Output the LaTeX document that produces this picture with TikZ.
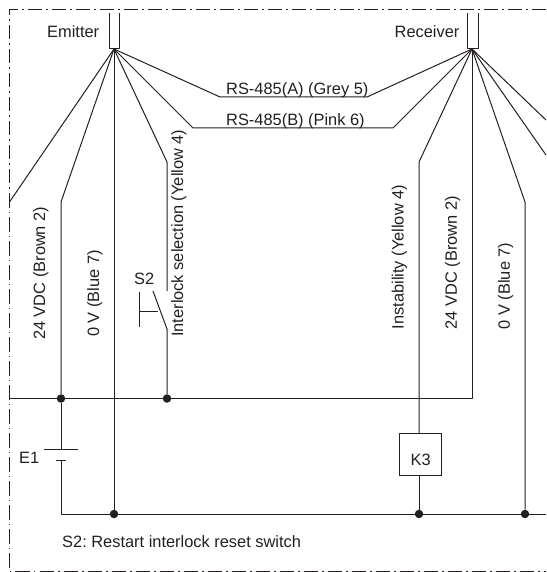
\documentclass[tikz,border=0pt]{standalone}
\usepackage{fontspec}
\setmainfont{Liberation Sans}
\definecolor{ink}{HTML}{231F20}
\frenchspacing
\tikzset{
  wire/.style={draw=ink,line width=1pt,line join=round},
  frameline/.style={draw=ink,line width=1pt,dash pattern=on 14.5pt off 4pt on 1.5pt off 4pt},
  lbl/.style={text=ink,font=\fontsize{16.4}{16.4}\selectfont,inner sep=0pt},
  vlbl/.style={lbl,rotate=90,anchor=west},
  hlbl/.style={lbl,anchor=base west},
  jdot/.style={circle,fill=ink,draw=none,minimum size=8.5pt,inner sep=0pt}
}
\begin{document}
\begin{tikzpicture}[x=1pt,y=-1pt]
\useasboundingbox (0,0) rectangle (546,572);
\draw[frameline] (546,9.5) -- (9.5,9.5) -- (9.5,571) -- (546,571);
% sensor heads
\coordinate (ea) at (114,49);
\coordinate (ra) at (472,49);
\draw[wire] (109,13) -- (109,48.5) -- (119,48.5) -- (119,13);
\draw[wire] (467,13) -- (467,48.5) -- (478,48.5) -- (478,13);
% junctions
\node[jdot] (j1) at (61,398.5) {};
\node[jdot] (j2) at (167,398.5) {};
\node[jdot] (j3) at (114,514) {};
\node[jdot] (j4) at (419,514) {};
\node[jdot] (j5) at (525,514) {};
\node[draw=ink,line width=1pt,minimum size=42pt,inner sep=0pt] (k3) at (420,454.3) {};
\coordinate (leftA) at (9.5,202);
\coordinate (leftB) at (9.5,398.5);
\coordinate (rightA) at (546,120);
\coordinate (rightB) at (546,155);
\coordinate (rightC) at (546,514);
\coordinate (bat) at (61,514);
\coordinate (batp) at (61,449);
\coordinate (batn) at (61,460);
\coordinate (swt) at (167,291);
\coordinate (swb) at (167,329);
\coordinate (bld) at (153,291);
% emitter fan
\draw[wire] (ea) -- (leftA);
\draw[wire] (ea) -- (61,202) -- (j1);
\draw[wire] (ea) -- (j3);
\draw[wire] (ea) -- (167,162) -- (swt);
\draw[wire] (ea) -- (220,97) -- (367,97) -- (ra);
\draw[wire] (ea) -- (193,128) -- (393,128) -- (ra);
% receiver fan
\draw[wire] (ra) -- (419,162) -- (k3.north -| j4);
\draw[wire] (ra) -- (472,398.5) -- (leftB);
\draw[wire] (ra) -- (525,202) -- (j5);
\draw[wire] (ra) -- (rightA);
\draw[wire] (ra) -- (rightB);
% bottom rail
\draw[wire] (k3.south -| j4) -- (j4);
\draw[wire] (batn) -- (bat) -- (rightC);
\draw[wire] (j1) -- (batp);
\draw[wire] (44,449) -- (78,449);
\draw[wire] (56,460) -- (66,460);
% switch
\draw[wire] (j2) -- (swb) -- (bld);
\draw[wire] (139.5,292) -- (139.5,327);
\draw[wire] (139.5,311.5) -- (158,311.5);
% labels
\node[hlbl] (k3lbl) at (410.5,465) {K3};
\node[hlbl] (emitter) at (47,37.5) {Emitter};
\node[hlbl] (receiver) at (394.5,37.5) {Receiver};
\node[hlbl] (rsa) at (226,94.5) {RS-485(A) (Grey 5)};
\node[hlbl] (rsb) at (226,126) {RS-485(B) (Pink 6)};
\node[vlbl] (l24a) at (41,340) {24 VDC (Brown 2)};
\node[vlbl] (l0a) at (95,337) {0 V (Blue 7)};
\node[vlbl] (lint) at (179,337) {Interlock selection (Yellow 4)};
\node[vlbl] (linst) at (399.5,329.5) {Instability (Yellow 4)};
\node[vlbl] (l24b) at (452.5,329.5) {24 VDC (Brown 2)};
\node[vlbl] (l0b) at (505.5,329.5) {0 V (Blue 7)};
\node[hlbl] (s2) at (134,284) {S2};
\node[hlbl] (e1) at (19,463) {E1};
\node[hlbl] (note) at (62,547) {S2: Restart interlock reset switch};
\end{tikzpicture}
\end{document}
